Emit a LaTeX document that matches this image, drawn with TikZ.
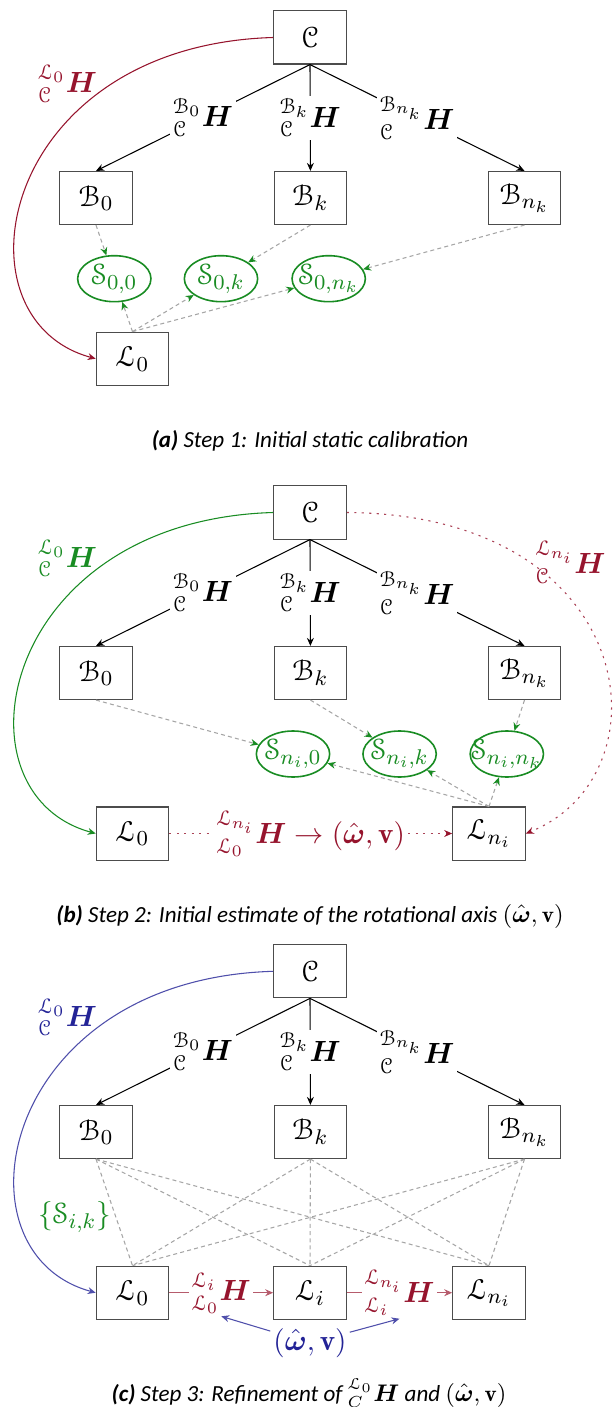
\documentclass[tikz,border=0pt]{standalone}
\usepackage{amsmath,amssymb}
\usepackage[mathcal]{eucal}
\usepackage{fontspec}
\newfontfamily\capfont{Carlito}
\usepackage{xcolor}
\usepackage{tikz}
\usetikzlibrary{shapes.geometric,arrows.meta}

\definecolor{hred}{RGB}{150,20,45}
\definecolor{sgreen}{RGB}{25,140,35}
\definecolor{hblue}{RGB}{35,35,150}
\newcommand{\trf}[2]{${}^{#1}_{#2}\boldsymbol{H}$}
\newcommand{\Sset}[1]{\makebox[0pt]{$\mathcal{S}_{#1}$}}

\begin{document}
\begin{tikzpicture}[x=0.375pt,y=-0.375pt,font=\fontsize{10.95}{13}\selectfont,
  box/.style={draw=black!70,thin,fill=white,minimum width=27.2pt,minimum height=19.9pt,inner sep=0pt},
  sset/.style={ellipse,draw=sgreen,semithick,text=sgreen,minimum width=27.5pt,minimum height=17.25pt,inner sep=0pt},
  lab/.style={fill=white,inner sep=1pt},
  arr/.style={-{Stealth[length=3pt,width=2.6pt]},thin},
  sarr/.style={gray!70,thin,dash pattern=on 1.5pt off 1.2pt,-{Stealth[length=3pt,width=2.6pt,color=sgreen]}},
  rdot/.style={hred!80,thin,dash pattern=on 0.8pt off 2pt,-{Stealth[length=3pt,width=2.6pt,color=hred]}},
  gline/.style={gray!70,thin,dash pattern=on 1.5pt off 1.2pt},
  capt/.style={font=\capfont\itshape\fontsize{8.65}{10}\selectfont}]
  \useasboundingbox (0,0) rectangle (614,1407);

  % (a) initial static calibration
  \node[box](ca) at (310,37.5){$\mathcal{C}$};
  \node[box](b0a) at (96,198){$\mathcal{B}_0$};
  \node[box](bka) at (310.4,198){$\mathcal{B}_k$};
  \node[box](bna) at (524.5,198){$\mathcal{B}_{n_k}$};
  \node[sset](s00) at (114.3,278.7){\Sset{0,0}};
  \node[sset](s0k) at (221,278.7){\Sset{0,k}};
  \node[sset](s0n) at (328.7,278.7){\Sset{0,n_k}};
  \node[box](l0a) at (132.5,358.7){$\mathcal{L}_0$};
  \draw[arr](ca.south)--node[lab](ha0){\trf{\mathcal{B}_0}{\mathcal{C}}}(b0a.north);
  \draw[arr](ca.south)--node[lab](hak){\trf{\mathcal{B}_k}{\mathcal{C}}}(bka.north);
  \draw[arr](ca.south)--node[lab](han){\trf{\mathcal{B}_{n_k}}{\mathcal{C}}}(bna.north);
  \draw[arr,hred](ca.west) .. controls +(-274,8) and +(-147,-40) .. (l0a.west);
  \node[text=hred](hal) at (67.5,83.5){\trf{\mathcal{L}_0}{\mathcal{C}}};
  \draw[sarr](b0a.south)--(s00);\draw[sarr](bka.south)--(s0k);\draw[sarr](bna.south)--(s0n);
  \draw[sarr](l0a.north)--(s00);\draw[sarr](l0a.north)--(s0k);\draw[sarr](l0a.north)--(s0n);
  \node[capt](capa) at (310,441){\textbf{(a)} Step 1: Initial static calibration};

  % (b) initial estimate of the axis
  \node[box](cb) at (310,512.5){$\mathcal{C}$};
  \node[box](b0b) at (96,673){$\mathcal{B}_0$};
  \node[box](bkb) at (310.4,673){$\mathcal{B}_k$};
  \node[box](bnb) at (524.5,673){$\mathcal{B}_{n_k}$};
  \node[sset](sn0) at (293,754){\Sset{n_i,0}};
  \node[sset](snk) at (399.6,754){\Sset{n_i,k}};
  \node[sset](snn) at (506.8,754){\Sset{n_i,n_k}};
  \node[box](l0b) at (132.5,833.5){$\mathcal{L}_0$};
  \node[box](lnb) at (489,833.5){$\mathcal{L}_{n_i}$};
  \draw[arr](cb.south)--node[lab](hb0){\trf{\mathcal{B}_0}{\mathcal{C}}}(b0b.north);
  \draw[arr](cb.south)--node[lab](hbk){\trf{\mathcal{B}_k}{\mathcal{C}}}(bkb.north);
  \draw[arr](cb.south)--node[lab](hbn){\trf{\mathcal{B}_{n_k}}{\mathcal{C}}}(bnb.north);
  \draw[arr,sgreen](cb.west) .. controls +(-274,8) and +(-147,-40) .. (l0b.west);
  \node[text=sgreen](hbl) at (67.5,558){\trf{\mathcal{L}_0}{\mathcal{C}}};
  \draw[rdot](cb.east) .. controls +(294,2) and +(145,-58) .. (lnb.east);
  \node[text=hred](hbr) at (570.6,562){\trf{\mathcal{L}_{n_i}}{\mathcal{C}}};
  \draw[rdot](l0b)--node[lab,text=hred](hbw){\trf{\mathcal{L}_{n_i}}{\mathcal{L}_0}${}\rightarrow(\hat{\boldsymbol{\omega}},\mathbf{v})$}(lnb);
  \draw[sarr](b0b.south)--(sn0);\draw[sarr](bkb.south)--(snk);\draw[sarr](bnb.south)--(snn);
  \draw[sarr](lnb.north)--(sn0);\draw[sarr](lnb.north)--(snk);\draw[sarr](lnb.north)--(snn);
  \node[capt](capb) at (310,916){\textbf{(b)} Step 2: Initial estimate of the rotational axis $(\hat{\boldsymbol{\omega}},\mathbf{v})$};

  % (c) refinement
  \node[box](cc) at (310,971.3){$\mathcal{C}$};
  \node[box](b0c) at (96,1132){$\mathcal{B}_0$};
  \node[box](bkc) at (310.4,1132){$\mathcal{B}_k$};
  \node[box](bnc) at (524.5,1132){$\mathcal{B}_{n_k}$};
  \node[box](l0c) at (132.5,1292.7){$\mathcal{L}_0$};
  \node[box](lic) at (310,1292.7){$\mathcal{L}_i$};
  \node[box](lnc) at (489,1292.7){$\mathcal{L}_{n_i}$};
  \draw[arr](cc.south)--node[lab](hc0){\trf{\mathcal{B}_0}{\mathcal{C}}}(b0c.north);
  \draw[arr](cc.south)--node[lab](hck){\trf{\mathcal{B}_k}{\mathcal{C}}}(bkc.north);
  \draw[arr](cc.south)--node[lab](hcn){\trf{\mathcal{B}_{n_k}}{\mathcal{C}}}(bnc.north);
  \draw[arr,hblue!80](cc.west) .. controls +(-274,8) and +(-147,-40) .. (l0c.west);
  \node[text=hblue](hcl) at (67.5,1017){\trf{\mathcal{L}_0}{\mathcal{C}}};
  \foreach \b in {b0c,bkc,bnc}
    \foreach \l in {l0c,lic,lnc}
      \draw[gline](\b.south)--(\l.north);
  \node[text=sgreen](sik) at (74.5,1217){$\{\mathcal{S}_{i,k}\}$};
  \draw[arr,hred!70](l0c)--node[lab,text=hred](h0i){\trf{\mathcal{L}_i}{\mathcal{L}_0}}(lic);
  \draw[arr,hred!70](lic)--node[lab,text=hred](hin){\trf{\mathcal{L}_{n_i}}{\mathcal{L}_i}}(lnc);
  \node[text=hblue,inner sep=1pt](om) at (310,1343){$(\hat{\boldsymbol{\omega}},\mathbf{v})$};
  \draw[arr,hblue!80](om)--(h0i.south);\draw[arr,hblue!80](om)--(hin.south);
  \node[capt](capc) at (309,1393){\textbf{(c)} Step 3: Refinement of ${}^{\mathcal{L}_0}_{C}\boldsymbol{H}$ and $(\hat{\boldsymbol{\omega}},\mathbf{v})$};
\end{tikzpicture}
\end{document}
